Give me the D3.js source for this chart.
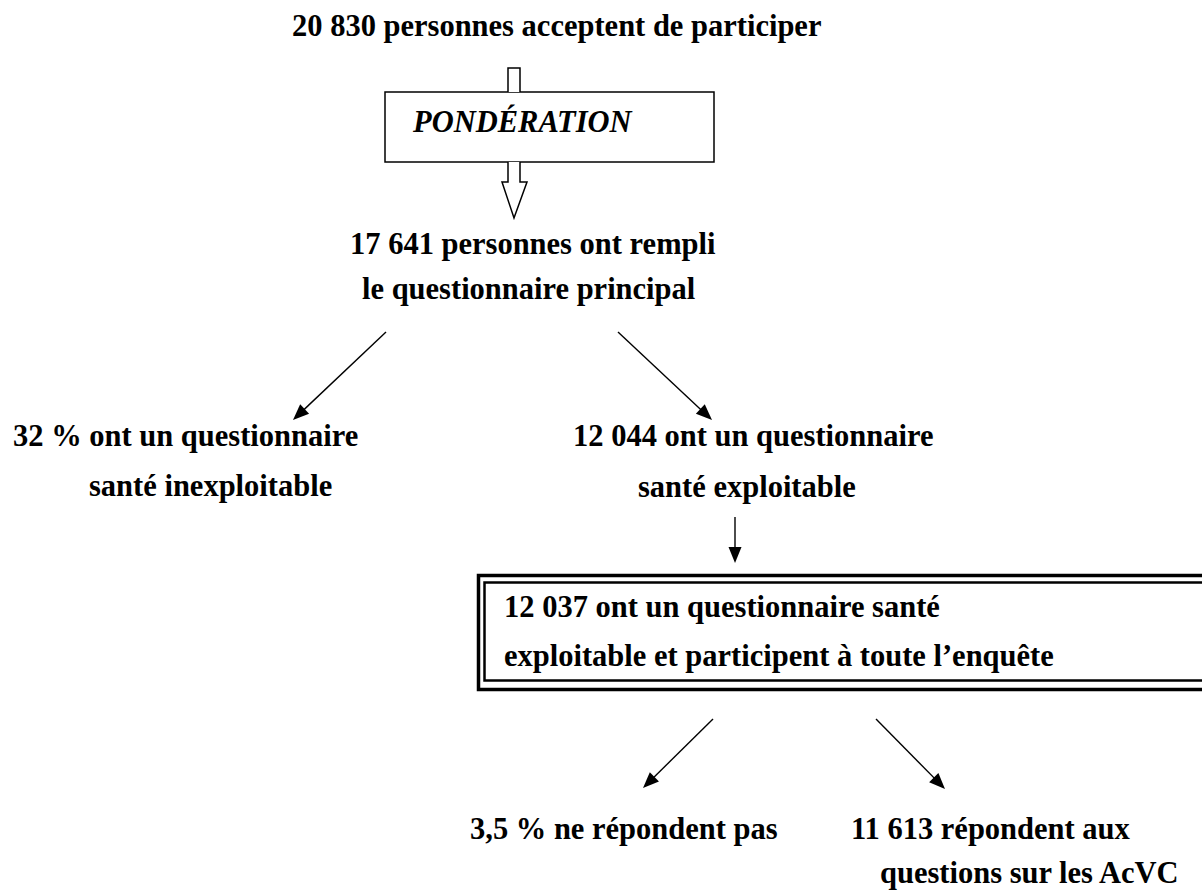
<!DOCTYPE html>
<html>
<head>
<meta charset="utf-8">
<script src="https://cdn.jsdelivr.net/npm/d3@7"></script>
<style>
  body { margin: 0; background: #fff; }
  text { font-family: "Liberation Serif", "Times New Roman", serif; font-weight: bold; fill: #000; }
</style>
</head>
<body>
<div class="chart"></div>
<script>
// DATA
var stepCounts = ["20 830", "17 641", "32 %", "12 044", "12 037", "3,5 %", "11 613"];
var stepLabels = [
  ["personnes acceptent de participer"],
  ["personnes ont rempli", "le questionnaire principal"],
  ["ont un questionnaire", "santé inexploitable"],
  ["ont un questionnaire", "santé exploitable"],
  ["ont un questionnaire santé", "exploitable et participent à toute l’enquête"],
  ["ne répondent pas"],
  ["répondent aux", "questions sur les AcVC"]
];
var weightLabel = "PONDÉRATION";
// which step flows into which (thin arrows)
var links = [[1, 2], [1, 3], [3, 4], [4, 5], [4, 6]];

// LAYOUT (pixels)
var cfg = {
  w: 1202,
  h: 892,
  fontSize: 30.5
};
// first line x / baseline, second line x / baseline
var pos = [
  { x: 292, y: 36 },
  { x: 350, y: 254, x2: 362, y2: 299 },
  { x: 13, y: 446, x2: 89, y2: 496 },
  { x: 573, y: 446, x2: 638, y2: 497 },
  { x: 504, y: 617, x2: 504, y2: 666 },
  { x: 470, y: 839 },
  { x: 851, y: 839, x2: 880, y2: 883 }
];
var arrowPts = [
  [[386, 332], [293, 420]],
  [[618, 332], [712, 420]],
  [[735, 517], [735, 563]],
  [[713, 719], [643, 788]],
  [[876, 719], [945, 789]]
];

var svg = d3.select(".chart").append("svg")
  .attr("width", cfg.w)
  .attr("height", cfg.h);

var g = svg.append("g");

// Weighting box + hollow arrows
var wBox = { x: 385, y: 92, w: 329, h: 70 };
g.append("rect")
  .attr("x", wBox.x).attr("y", wBox.y)
  .attr("width", wBox.w).attr("height", wBox.h)
  .style("fill", "#fff").style("stroke", "#000").style("stroke-width", 1.5);
g.append("text")
  .attr("x", 413).attr("y", 132)
  .style("font-size", cfg.fontSize + "px")
  .style("font-style", "italic")
  .text(weightLabel);

var line = d3.line();
// hollow shaft above the box
g.append("path")
  .attr("d", line([[508, 92], [508, 68], [520, 68], [520, 92]]))
  .style("fill", "#fff").style("stroke", "#000").style("stroke-width", 1.5);
// hollow arrow below the box
g.append("path")
  .attr("d", line([[508, 162], [508, 182], [502, 182], [514, 218], [527, 182], [520, 182], [520, 162]]))
  .style("fill", "#fff").style("stroke", "#000").style("stroke-width", 1.5);

// Double frame around step 4 (runs off the right edge)
g.append("path")
  .attr("d", line([[1210, 575.5], [478.5, 575.5], [478.5, 689.5], [1210, 689.5]]))
  .style("fill", "none").style("stroke", "#000").style("stroke-width", 3.5);
g.append("path")
  .attr("d", line([[1210, 582.5], [484.5, 582.5], [484.5, 680.5], [1210, 680.5]]))
  .style("fill", "none").style("stroke", "#000").style("stroke-width", 2.5);

// Thin arrows
var arrows = g.selectAll(".arrow")
  .data(links)
  .enter().append("g")
  .attr("class", "arrow");

function unit(a, b) {
  var len = Math.hypot(b[0] - a[0], b[1] - a[1]);
  return [(b[0] - a[0]) / len, (b[1] - a[1]) / len];
}

arrows.append("path")
  .attr("d", function (d, i) {
    var a = arrowPts[i][0], b = arrowPts[i][1], u = unit(a, b);
    return line([a, [b[0] - u[0] * 10, b[1] - u[1] * 10]]);
  })
  .style("stroke", "#000").style("stroke-width", 1.4).style("fill", "none");

arrows.append("path")
  .attr("d", function (d, i) {
    var a = arrowPts[i][0], b = arrowPts[i][1], u = unit(a, b);
    var hl = 16, hw = 6.5;
    var bx = b[0] - u[0] * hl, by = b[1] - u[1] * hl;
    return line([b, [bx - u[1] * hw, by + u[0] * hw], [bx + u[1] * hw, by - u[0] * hw]]) + "Z";
  })
  .style("fill", "#000");

// Step texts
var steps = g.selectAll(".step")
  .data(stepLabels)
  .enter().append("text")
  .attr("class", "step")
  .style("font-size", cfg.fontSize + "px");

steps.each(function (lines, i) {
  var t = d3.select(this), p = pos[i];
  lines.forEach(function (l, j) {
    t.append("tspan")
      .attr("x", j === 0 ? p.x : p.x2)
      .attr("y", j === 0 ? p.y : p.y2)
      .text(j === 0 ? stepCounts[i] + " " + l : l);
  });
});
</script>
</body>
</html>
